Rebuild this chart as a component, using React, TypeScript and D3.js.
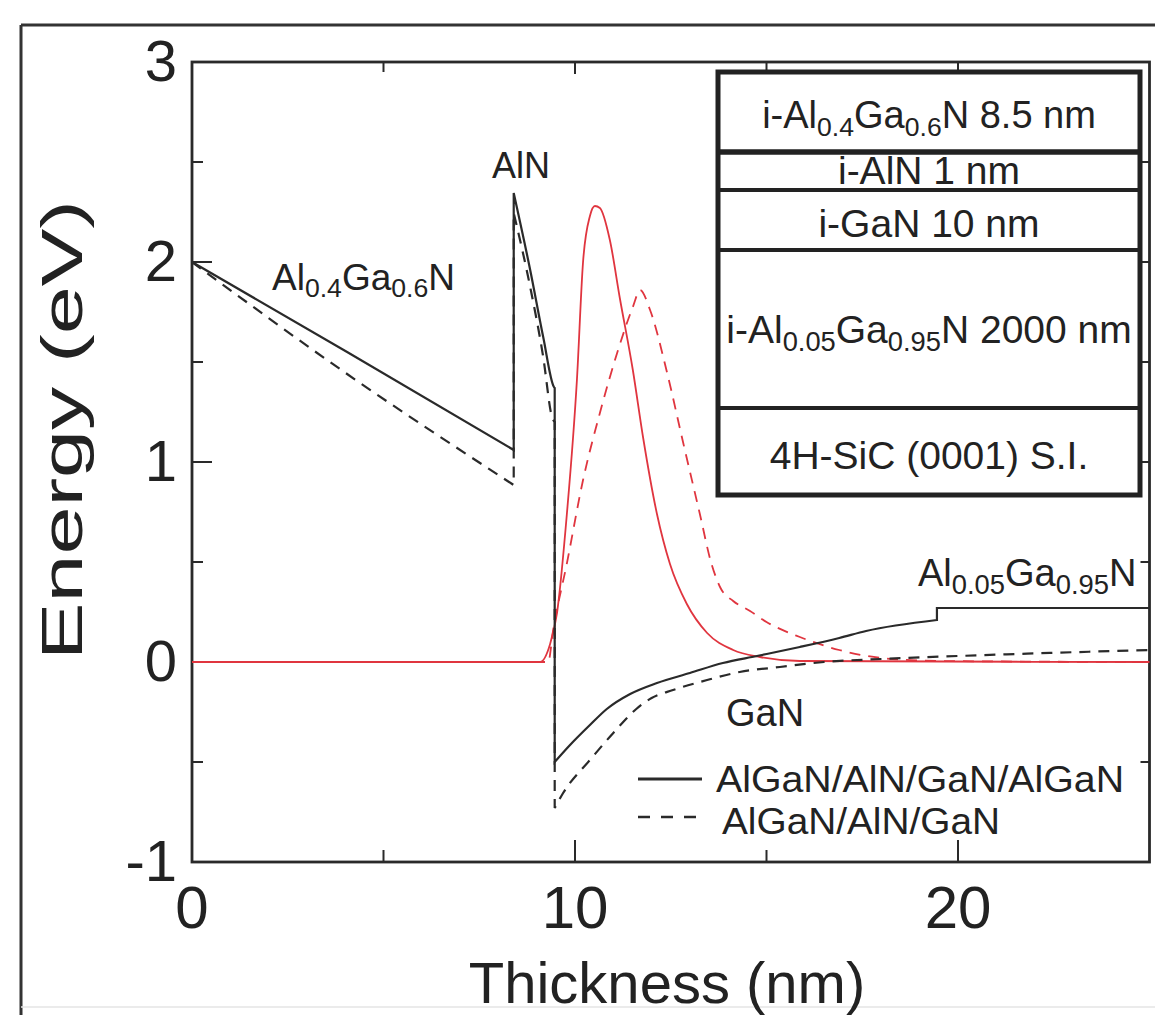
import React from "react";
import * as d3 from "d3";

// ---------- data ----------
// Conduction band, AlGaN/AlN/GaN/AlGaN (solid black)
const bandSolidX = [0, 4.05, 8.4, 8.4, 8.83, 9.17, 9.45, 9.47, 9.47, 9.87, 10.39, 10.83, 11.44, 12.14, 13.0, 13.86, 14.75, 15.87, 16.9, 17.6, 19.45, 19.45, 25];
const bandSolidY = [2.0, 1.55, 1.06, 2.345, 1.96, 1.625, 1.375, 1.37, -0.5, -0.415, -0.315, -0.235, -0.16, -0.105, -0.055, -0.005, 0.03, 0.075, 0.12, 0.155, 0.21, 0.27, 0.27];
// Conduction band, AlGaN/AlN/GaN (dashed black)
const bandDashX = [0, 4.05, 8.4, 8.4, 8.83, 9.17, 9.4, 9.47, 9.47, 9.69, 10.39, 11.0, 11.6, 12.0, 12.56, 13.45, 14.3, 15.35, 16.5, 18.0, 20.0, 25];
const bandDashY = [2.0, 1.44, 0.885, 2.245, 1.875, 1.525, 1.225, 1.2, -0.73, -0.655, -0.49, -0.355, -0.235, -0.18, -0.14, -0.09, -0.05, -0.025, 0.0, 0.015, 0.03, 0.06];
// Electron wavefunction, AlGaN/AlN/GaN/AlGaN (solid red)
const waveSolidX = [0, 9.09, 9.35, 9.53, 9.79, 10.05, 10.21, 10.39, 10.52, 10.65, 10.91, 11.17, 11.51, 11.78, 12.14, 12.48, 12.92, 13.45, 14.13, 14.83, 15.87, 25];
const waveSolidY = [0, 0, 0.09, 0.245, 0.745, 1.41, 2.0, 2.23, 2.28, 2.27, 2.11, 1.82, 1.46, 1.12, 0.74, 0.49, 0.29, 0.145, 0.06, 0.025, 0.005, 0];
// Electron wavefunction, AlGaN/AlN/GaN (dashed red)
const waveDashX = [0, 9.3, 9.43, 9.79, 10.21, 10.65, 11.1, 11.51, 11.7, 11.96, 12.4, 12.82, 13.26, 13.55, 13.8, 14.13, 14.57, 15.0, 15.87, 16.9, 18.0, 19.5, 25];
const waveDashY = [0, 0, 0.16, 0.495, 0.91, 1.245, 1.545, 1.775, 1.86, 1.76, 1.45, 1.1, 0.74, 0.5, 0.37, 0.305, 0.255, 0.2, 0.125, 0.06, 0.02, 0.005, 0];

const xMajorTicks = [0, 10, 20];
const xMinorTicks = [5, 15];
const yMajorTicks = [-1, 0, 1, 2, 3];
const yMinorTicks = [-0.5, 0.5, 1.5, 2.5];
const xTickLabels = ["0", "10", "20"];
const yTickLabels = ["-1", "0", "1", "2", "3"];

const legendLabels = ["AlGaN/AlN/GaN/AlGaN", "AlGaN/AlN/GaN"];

type Part = [string, boolean];
const layerRows: { parts: Part[] }[] = [
  { parts: [["i-Al", false], ["0.4", true], ["Ga", false], ["0.6", true], ["N 8.5 nm", false]] },
  { parts: [["i-AlN 1 nm", false]] },
  { parts: [["i-GaN 10 nm", false]] },
  { parts: [["i-Al", false], ["0.05", true], ["Ga", false], ["0.95", true], ["N 2000 nm", false]] },
  { parts: [["4H-SiC (0001) S.I.", false]] },
];

const FONT = "'Liberation Sans', Arial, Helvetica, sans-serif";

function Formula({ x, y, parts, size, subScale = 0.7, anchor = "start" }: { x: number; y: number; parts: Part[]; size: number; subScale?: number; anchor?: string }) {
  let prevSub = false;
  return (
    <text x={x} y={y} fontSize={size} fontFamily={FONT} fill="#222" textAnchor={anchor as any}>
      {parts.map(([t, sub], i) => {
        const dy = sub && !prevSub ? size * 0.2 : !sub && prevSub ? -size * 0.2 : 0;
        prevSub = sub;
        return (
          <tspan key={i} dy={dy} fontSize={sub ? size * subScale : size}>
            {t}
          </tspan>
        );
      })}
    </text>
  );
}

export default function App() {
  const W = 1155, H = 1015;
  const x = d3.scaleLinear().domain([0, 25]).range([192, 1149.5]);
  const y = d3.scaleLinear().domain([-1, 3]).range([862, 62]);

  const toPts = (xs: number[], ys: number[]) => xs.map((v, i) => [v, ys[i]] as [number, number]);
  const lin = d3.line<[number, number]>().x((d) => x(d[0])).y((d) => y(d[1]));
  const smooth = d3.line<[number, number]>().x((d) => x(d[0])).y((d) => y(d[1])).curve(d3.curveMonotoneX);

  // smooth piecewise path: pieces separated by vertical jumps (repeated x) are joined by straight verticals
  const piecewise = (xs: number[], ys: number[]) => {
    const pts = toPts(xs, ys);
    const segs: [number, number][][] = [];
    let cur: [number, number][] = [];
    pts.forEach((p, i) => {
      if (i > 0 && p[0] === pts[i - 1][0]) {
        segs.push(cur);
        cur = [];
      }
      cur.push(p);
    });
    segs.push(cur);
    return segs
      .map((s, i) => {
        const d = s.length > 2 ? smooth(s) || "" : lin(s) || "";
        return i === 0 ? d : "L" + d.slice(1);
      })
      .join("");
  };

  const [x0, x1] = x.range();
  const [yb, yt] = y.range();
  const axisColor = "#2a2a2a";

  const layerBox = { x0: 718, x1: 1140, y0: 72, y1: 495 };
  const layerLines = [152, 190, 250, 408];
  const layerBaselines = [128, 184, 237, 343, 469];

  return (
    <div style={{ position: "absolute", left: 0, top: 0 }}>
      <svg width={W} height={H} style={{ display: "block", background: "#fff" }}>
        {/* outer figure frame */}
        <line x1={21} y1={25} x2={1155} y2={25} stroke="#333" strokeWidth={3} />
        <line x1={21} y1={25} x2={21} y2={1015} stroke="#333" strokeWidth={3} />
        <line x1={21} y1={1007} x2={1155} y2={1007} stroke="#e4e4e4" strokeWidth={1.5} />

        {/* plot frame */}
        <rect x={x0} y={yt} width={x1 - x0} height={yb - yt} fill="none" stroke={axisColor} strokeWidth={2.8} />

        {/* ticks */}
        {xMajorTicks.map((t) => (
          <g key={"xM" + t}>
            <line x1={x(t)} x2={x(t)} y1={yb} y2={yb - 22} stroke={axisColor} strokeWidth={2} />
            <line x1={x(t)} x2={x(t)} y1={yt} y2={yt + 12} stroke={axisColor} strokeWidth={2} />
          </g>
        ))}
        {xMinorTicks.map((t) => (
          <g key={"xm" + t}>
            <line x1={x(t)} x2={x(t)} y1={yb} y2={yb - 12} stroke={axisColor} strokeWidth={2} />
            <line x1={x(t)} x2={x(t)} y1={yt} y2={yt + 10} stroke={axisColor} strokeWidth={2} />
          </g>
        ))}
        {yMajorTicks.map((t) => (
          <g key={"yM" + t}>
            <line x1={x0} x2={x0 + 20} y1={y(t)} y2={y(t)} stroke={axisColor} strokeWidth={2} />
            <line x1={x1} x2={x1 - 10} y1={y(t)} y2={y(t)} stroke={axisColor} strokeWidth={2} />
          </g>
        ))}
        {yMinorTicks.map((t) => (
          <g key={"ym" + t}>
            <line x1={x0} x2={x0 + 11} y1={y(t)} y2={y(t)} stroke={axisColor} strokeWidth={2} />
            <line x1={x1} x2={x1 - 9} y1={y(t)} y2={y(t)} stroke={axisColor} strokeWidth={2} />
          </g>
        ))}

        {/* tick labels */}
        {xMajorTicks.map((t, i) => (
          <text key={"xl" + t} x={x(t)} y={928} fontSize={60} fontFamily={FONT} fill="#222" textAnchor="middle">
            {xTickLabels[i]}
          </text>
        ))}
        {yMajorTicks.map((t, i) => (
          <text key={"yl" + t} x={177} y={y(t) + 19} fontSize={58} fontFamily={FONT} fill="#222" textAnchor="end">
            {yTickLabels[i]}
          </text>
        ))}

        {/* axis titles */}
        <text x={667} y={1003} fontSize={58} fontFamily={FONT} fill="#222" textAnchor="middle">
          Thickness (nm)
        </text>
        <text transform={`translate(82,430) rotate(-90)`} fontSize={58} fontFamily={FONT} fill="#222" textAnchor="middle" textLength={460} lengthAdjust="spacingAndGlyphs">
          Energy (eV)
        </text>

        {/* curves */}
        <path d={smooth(toPts(waveSolidX, waveSolidY)) || ""} fill="none" stroke="#e0353f" strokeWidth={1.8} />
        <path d={smooth(toPts(waveDashX, waveDashY)) || ""} fill="none" stroke="#e0353f" strokeWidth={1.8} strokeDasharray="11,8" />
        <path d={piecewise(bandDashX, bandDashY)} fill="none" stroke="#2a2a2a" strokeWidth={2.2} strokeDasharray="11,8" />
        <path d={piecewise(bandSolidX, bandSolidY)} fill="none" stroke="#2a2a2a" strokeWidth={2.2} />

        {/* region annotations */}
        <Formula x={272} y={290} size={37} subScale={0.72} parts={[["Al", false], ["0.4", true], ["Ga", false], ["0.6", true], ["N", false]]} />
        <text x={492} y={178} fontSize={36} fontFamily={FONT} fill="#222">AlN</text>
        <text x={726} y={726} fontSize={38} fontFamily={FONT} fill="#222">GaN</text>
        <Formula x={918} y={586} size={38} subScale={0.72} parts={[["Al", false], ["0.05", true], ["Ga", false], ["0.95", true], ["N", false]]} />

        {/* legend */}
        <line x1={638} x2={702} y1={779} y2={779} stroke="#2a2a2a" strokeWidth={3} />
        <text x={716} y={792} fontSize={36} fontFamily={FONT} fill="#222" textLength={408} lengthAdjust="spacingAndGlyphs">{legendLabels[0]}</text>
        <line x1={638} x2={702} y1={817} y2={817} stroke="#2a2a2a" strokeWidth={2.5} strokeDasharray="12,11" />
        <text x={722} y={834} fontSize={36} fontFamily={FONT} fill="#222" textLength={278} lengthAdjust="spacingAndGlyphs">{legendLabels[1]}</text>

        {/* layer stack inset */}
        <rect x={layerBox.x0} y={layerBox.y0} width={layerBox.x1 - layerBox.x0} height={layerBox.y1 - layerBox.y0} fill="#fff" stroke="#222" strokeWidth={5} />
        {layerLines.map((ly, i) => (
          <line key={"ll" + i} x1={layerBox.x0} x2={layerBox.x1} y1={ly} y2={ly} stroke="#222" strokeWidth={i === 0 ? 5.5 : 4} />
        ))}
        {layerRows.map((r, i) => (
          <Formula key={"lr" + i} x={(layerBox.x0 + layerBox.x1) / 2} y={layerBaselines[i]} size={i === 0 ? 38 : 39} anchor="middle" parts={r.parts} />
        ))}
      </svg>
    </div>
  );
}
